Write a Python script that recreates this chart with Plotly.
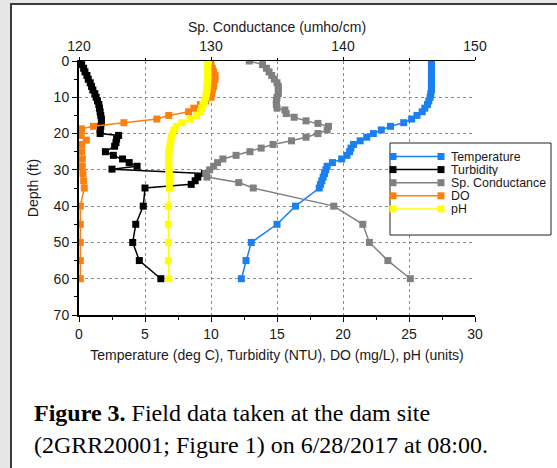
import plotly.graph_objects as go

# ---------------- data ----------------
temp_depth = [0, 1, 2, 3, 4, 5, 6, 7, 8, 9, 10, 11, 12, 13, 14, 15, 16, 17, 18, 19, 20,
              21, 22, 23, 24, 25, 26, 27, 28, 29, 30, 31, 32, 33, 34, 35, 40, 45, 50, 55, 60]
temp_vals = [26.7, 26.7, 26.7, 26.7, 26.7, 26.7, 26.7, 26.7, 26.7, 26.65, 26.6, 26.5, 26.4,
             26.2, 26.0, 25.6, 25.2, 24.6, 23.6, 22.9, 22.3, 21.8, 21.3, 20.8, 20.6, 20.5,
             20.3, 19.9, 19.2, 18.8, 18.7, 18.6, 18.5, 18.4, 18.3, 18.2, 16.4, 15.0, 13.05,
             12.65, 12.3]

turb_depth = [0, 1, 2, 3, 4, 5, 6, 7, 8, 9, 10, 11, 12, 13, 14, 15, 16, 17, 18, 19, 20,
              20.5, 21.5, 22.5, 23.5, 25, 26, 27, 28, 29, 29.8, 31, 32, 33, 34, 35,
              40, 45, 50, 55, 60]
turb_vals = [0.1, 0.2, 0.35, 0.45, 0.6, 0.7, 0.85, 0.95, 1.05, 1.2, 1.3, 1.4, 1.5, 1.55,
             1.6, 1.65, 1.7, 1.7, 1.65, 1.6, 1.6, 3.0, 2.85, 2.8, 2.7, 2.0, 2.6, 3.3, 3.8,
             4.4, 2.5, 9.5, 9.0, 8.8, 8.5, 5.0, 4.87, 4.3, 4.07, 4.57, 6.2]

cond_depth = [0, 1, 2, 3, 4, 5, 6, 7, 8, 9, 10, 11, 12, 13, 13.5, 14.5, 15.5, 16.5, 17.2,
              18, 19, 20, 21, 22, 23, 24, 25, 26, 27, 28, 29, 30, 31, 32, 33.5, 35,
              40, 45, 50, 55, 60]
cond_vals = [132.9, 133.9, 134.2, 134.4, 134.6, 134.8, 135.0, 135.1, 135.1, 135.1, 135.0,
             134.95, 134.95, 135.0, 135.6, 135.7, 136.3, 137.2, 138.1, 138.9, 138.8, 138.1,
             137.2, 136.1, 134.7, 133.8, 132.95, 131.9, 130.9, 130.5, 130.2, 129.9, 129.6,
             129.7, 132.1, 133.2, 139.3, 141.5, 142.0, 143.4, 145.1]

do_depth = [0, 1, 2, 3, 4, 5, 6, 7, 8, 9, 10, 11, 12, 13, 14, 15, 16, 17, 18, 18.7, 19.5,
            20.5, 21.8, 23, 25, 27, 29, 31, 33, 35, 40, 45, 50, 55, 60]
do_vals = [9.9, 10.0, 10.1, 10.2, 10.3, 10.3, 10.2, 10.2, 10.1, 10.05, 10.0, 9.6, 9.2, 8.7,
           8.3, 6.8, 5.9, 3.4, 1.1, 0.2, 0.15, 0.15, 0.55, 0.2, 0.2, 0.25, 0.25, 0.3, 0.35,
           0.4, 0.1, 0.1, 0.1, 0.1, 0.1]

ph_depth = [0, 1, 2, 3, 4, 5, 6, 7, 8, 9, 10, 11, 12, 13, 14, 15, 16, 17, 18, 19, 20, 21,
            22, 23, 24, 25, 26, 27, 28, 29, 30, 31, 32, 33, 34, 35, 40, 45, 50, 55, 60]
ph_vals = [9.8, 9.75, 9.75, 9.75, 9.75, 9.75, 9.75, 9.7, 9.7, 9.65, 9.6, 9.5, 9.4, 9.3,
           9.2, 8.9, 8.4, 7.8, 7.4, 7.2, 7.1, 7.0, 6.95, 6.9, 6.85, 6.8, 6.8, 6.8, 6.8,
           6.8, 6.8, 6.85, 6.85, 6.85, 6.85, 6.85, 6.77, 6.77, 6.77, 6.77, 6.8]

series_names = ["Temperature", "Turbidity", "Sp. Conductance", "DO", "pH"]
series_colors = ["#1a80f0", "#000000", "#808080", "#ff7f0e", "#ffff00"]

bottom_ticks = [0, 5, 10, 15, 20, 25, 30]
top_ticks = [120, 130, 140, 150]
depth_ticks = [0, 10, 20, 30, 40, 50, 60, 70]

# ---------------- figure ----------------
W, H = 557, 468
L, R, T, B = 79, 82, 61, 153
PW, PH = W - L - R, H - T - B


def px(x):
    return (x - L) / PW


def py(y):
    return (H - B - y) / PH


FONT = "Liberation Sans, Arial, sans-serif"
SERIF = "Liberation Serif, Times New Roman, serif"

fig = go.Figure()

series = [
    (temp_vals, temp_depth, "x"),
    (turb_vals, turb_depth, "x"),
    (cond_vals, cond_depth, "x2"),
    (do_vals, do_depth, "x"),
    (ph_vals, ph_depth, "x"),
]
for (xs, ys, ax), name, color in zip(series, series_names, series_colors):
    fig.add_trace(go.Scatter(
        x=xs, y=ys, name=name, mode="lines+markers", xaxis=ax, yaxis="y",
        line=dict(color=color, width=1.5),
        marker=dict(symbol="square", size=7, color=color),
        showlegend=False,
    ))

grid = dict(showgrid=True, gridcolor="#8c8c8c", griddash="3px,3px", gridwidth=1)

fig.update_layout(
    width=W, height=H,
    margin=dict(l=L, r=R, t=T, b=B, pad=0),
    paper_bgcolor="#e6e6e6",
    plot_bgcolor="rgba(0,0,0,0)",
    font=dict(family=FONT, size=14, color="#1a1a1a"),
    showlegend=False,
    xaxis=dict(
        range=[0, 30], tickvals=bottom_ticks, ticks="outside", ticklen=5,
        tickcolor="black", showline=True, linecolor="black", linewidth=2,
        zeroline=False, anchor="y",
        minor=dict(dtick=2.5, ticks="outside", ticklen=3, tickcolor="black", showgrid=False),
        title=dict(text="Temperature (deg C), Turbidity (NTU), DO (mg/L), pH (units)",
                   font=dict(size=14), standoff=9),
        **grid,
    ),
    xaxis2=dict(
        range=[120, 150], tickvals=top_ticks, overlaying="x", side="top", anchor="y",
        ticks="outside", ticklen=3, tickcolor="black", showline=True,
        linecolor="black", linewidth=1, showgrid=False, zeroline=False,
        minor=dict(dtick=5, ticks="outside", ticklen=2, tickcolor="black", showgrid=False),
        title=dict(text="Sp. Conductance (umho/cm)", font=dict(size=14), standoff=2),
    ),
    yaxis=dict(
        range=[70, 0], tickvals=depth_ticks, ticks="outside", ticklen=5,
        tickcolor="black", showline=True, linecolor="black", linewidth=2,
        zeroline=False,
        minor=dict(dtick=5, ticks="outside", ticklen=3, tickcolor="black", showgrid=False),
        title=dict(text="Depth (ft)", font=dict(size=14), standoff=12),
        **grid,
    ),
)

# frame of the figure panel
fig.add_shape(type="rect", xref="paper", yref="paper",
              x0=px(11), x1=px(620), y0=py(520), y1=py(4),
              fillcolor="white", line=dict(color="#3a3a3a", width=2), layer="below")

# legend box (drawn by hand to match the compact original layout)
fig.add_shape(type="rect", xref="paper", yref="paper",
              x0=px(390), x1=px(551), y0=py(235), y1=py(143),
              fillcolor="white", line=dict(color="#222222", width=1), layer="above")
for i, (name, color) in enumerate(zip(series_names, series_colors)):
    yc = 156.5 + 13.1 * i
    fig.add_shape(type="line", xref="paper", yref="paper",
                  x0=px(393), x1=px(441), y0=py(yc), y1=py(yc),
                  line=dict(color=color, width=1.5), layer="above")
    for xc in (393, 441):
        fig.add_shape(type="rect", xref="paper", yref="paper",
                      x0=px(xc - 3.5), x1=px(xc + 3.5), y0=py(yc + 3.5), y1=py(yc - 3.5),
                      fillcolor=color, line=dict(width=0), layer="above")
    fig.add_annotation(xref="paper", yref="paper", x=px(450), y=py(yc),
                       xanchor="left", yanchor="middle", showarrow=False,
                       height=12, borderpad=0,
                       text=name, font=dict(family=FONT, size=12.4, color="#1a1a1a"))

# caption
fig.add_annotation(xref="paper", yref="paper", x=px(32), y=py(413),
                   xanchor="left", yanchor="middle", showarrow=False,
                   text="<b>Figure 3.</b> Field data taken at the dam site",
                   font=dict(family=SERIF, size=24, color="black"))
fig.add_annotation(xref="paper", yref="paper", x=px(32), y=py(445),
                   xanchor="left", yanchor="middle", showarrow=False,
                   text="(2GRR20001; Figure 1) on 6/28/2017 at 08:00.",
                   font=dict(family=SERIF, size=24, color="black"))

fig.write_html(
    "out.html",
    config={"displayModeBar": False},
    post_script="document.body.style.margin='0';document.body.style.overflow='hidden';",
)
